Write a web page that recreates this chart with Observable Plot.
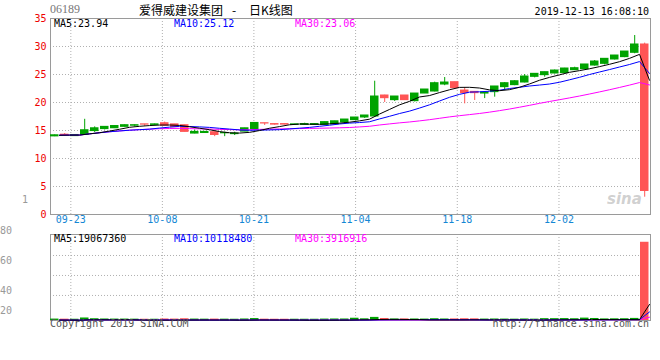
<!DOCTYPE html>
<html><head><meta charset="utf-8">
<script src="https://cdn.jsdelivr.net/npm/d3@7"></script>
<script src="https://cdn.jsdelivr.net/npm/@observablehq/plot@0.6"></script>
<style>
body{margin:0;background:#fff;}
#wrap{position:relative;width:660px;height:360px;overflow:hidden;font-family:"DejaVu Sans Mono",monospace;background:#fff;}
.t{position:absolute;white-space:nowrap;font-size:10px;line-height:10px;font-family:"DejaVu Sans Mono",monospace;}
#wrap svg{position:absolute;left:0;}
</style></head><body><div id="wrap"></div>
<script>
// ---- data (HKEX 06189, daily K) ----
const dates = ["09-19","09-20","09-23","09-24","09-25","09-26","09-27","09-30","10-02","10-03",
"10-04","10-08","10-09","10-10","10-11","10-14","10-15","10-16","10-17","10-18",
"10-21","10-22","10-23","10-24","10-25","10-28","10-29","10-30","10-31","11-01",
"11-04","11-05","11-06","11-07","11-08","11-11","11-12","11-13","11-14","11-15",
"11-18","11-19","11-20","11-21","11-22","11-25","11-26","11-27","11-28","11-29",
"12-02","12-03","12-04","12-05","12-06","12-09","12-10","12-11","12-12","12-13"];
const open  = [13.95,14.25,14.00,14.20,14.90,15.25,15.40,15.65,15.85,16.10,
16.00,16.30,16.10,15.95,14.45,14.55,14.70,14.50,14.35,14.80,
15.25,16.30,16.15,16.15,16.00,16.00,16.00,16.00,16.10,16.45,
16.85,17.32,17.50,21.25,20.42,21.25,20.24,21.60,21.96,23.21,
23.63,22.14,21.90,21.60,21.85,22.74,23.10,23.57,24.58,24.88,
25.18,25.24,25.77,25.95,26.60,26.90,27.68,28.10,28.87,30.36];
const high  = [14.20,14.45,14.20,17.00,15.65,15.70,15.85,16.00,16.00,16.10,
16.15,16.50,16.10,15.95,15.10,14.80,14.70,14.70,14.70,15.40,
16.35,16.30,16.15,16.15,16.10,16.30,16.20,16.50,16.65,16.96,
17.32,17.68,23.80,21.30,21.07,21.25,21.60,22.32,23.63,24.46,
23.63,22.62,21.90,21.80,22.86,23.55,23.90,25.00,25.12,25.42,
25.80,26.10,26.30,26.79,27.50,27.80,28.40,29.10,31.96,30.60];
const low   = [13.90,14.15,13.95,14.10,14.65,15.10,15.35,15.60,15.65,15.75,
15.90,15.85,15.60,14.75,14.40,14.50,13.90,13.90,14.10,14.80,
15.25,15.90,15.95,16.00,16.00,16.00,15.95,16.00,16.10,16.20,
16.85,17.15,17.40,20.00,20.18,20.42,20.10,21.60,21.90,23.00,
22.56,19.76,20.36,20.70,20.95,22.14,23.00,23.50,24.40,24.52,
25.10,25.20,25.70,25.90,26.50,26.70,27.60,28.00,28.70,3.09];
const close = [14.15,14.20,14.20,15.05,15.40,15.65,15.80,15.95,15.95,16.05,
16.10,15.85,15.60,14.75,14.75,14.75,14.20,14.55,14.45,15.40,
16.35,16.25,16.05,16.05,16.10,16.15,16.15,16.50,16.65,16.96,
17.32,17.68,21.07,20.77,21.07,20.42,21.60,22.32,23.45,23.57,
22.56,21.67,21.67,21.80,22.86,23.45,23.80,24.64,25.12,25.42,
25.71,26.07,26.13,26.79,27.32,27.80,28.39,29.10,30.36,4.20];
const volume = [500000,400000,300000,1800000,900000,600000,500000,500000,400000,300000,
300000,600000,500000,900000,500000,400000,500000,400000,300000,600000,
1100000,400000,300000,300000,300000,300000,300000,500000,600000,600000,
1500000,800000,2500000,1200000,600000,700000,600000,500000,900000,600000,
700000,900000,800000,500000,600000,500000,400000,600000,400000,1000000,
1000000,1100000,900000,1650000,1200000,700000,800000,900000,1300000,91600000];
const tickLabels = ["09-23","10-08","10-21","11-04","11-18","12-02"];
const priceTicks = [0,5,10,15,20,25,30,35];
const priceGrid = [5,10,15,20,25,30];
const volMax = 102000000;
const volGrid = [29700000,53400000,77100000];
const volLabels = ["80","60","40","20"];
const maLabels = ["MA5:23.94","MA10:25.12","MA30:23.06"];
const volMaLabels = ["MA5:19067360","MA10:10118480","MA30:3916916"];
const maColors = ["#000000","#0000ff","#ff00ff"];
const maK = [5,10,30];

const GREEN = "#00a300", RED = "#ff5555", GRID = "#b0b0b0", AXIS = "#9a9a9a";
const rows = dates.map((d,i)=>({i, date:d, o:open[i], h:high[i], l:low[i], c:close[i], v:volume[i], up: close[i] >= open[i]}));
const col = d => d.up ? GREEN : RED;
const tickIdx = tickLabels.map(l => dates.indexOf(l));
const N = dates.length;
const gx = t => t * N / (N - 1); // Sina grid placement

const wrap = document.getElementById("wrap");

const priceMarks = [
  Plot.ruleY(priceGrid, {stroke: GRID, strokeDasharray: "1,2"}),
  Plot.ruleX(tickIdx, {x: gx, stroke: GRID, strokeDasharray: "1,2"}),
  Plot.frame({stroke: AXIS}),
  Plot.ruleX(rows, {x: d => d.i + 0.42, y1: "l", y2: "h", stroke: col}),
  Plot.rect(rows, {x1: "i", x2: d => d.i + 0.85, y1: d => Math.min(d.o, d.c), y2: d => Math.max(d.o, d.c), fill: col, insetTop: -0.5, insetBottom: -0.5}),
];
[2,1,0].forEach(j => priceMarks.push(
  Plot.lineY(rows, Plot.windowY({k: maK[j], anchor: "end", reduce: "mean"}, {x: d => d.i + 0.9, y: "c", stroke: maColors[j], strokeWidth: 1}))
));
priceMarks.push(
  Plot.axisY(priceTicks, {tickSize: 0, tickPadding: 4, color: "#ee0000", fontSize: 10}),
  Plot.text(tickIdx, {x: gx, text: (t, i) => tickLabels[i], frameAnchor: "bottom", dy: 8, fill: "#1487d4", fontSize: 10})
);

const price = Plot.plot({
  width: 660, height: 232, marginLeft: 50, marginRight: 10, marginTop: 18, marginBottom: 18,
  x: {type: "linear", domain: [0, N], axis: null},
  y: {domain: [0, 35], axis: null},
  color: {type: "identity"},
  style: {fontFamily: "DejaVu Sans Mono, monospace", fontSize: "10px", background: "transparent", overflow: "visible"},
  marks: priceMarks
});
price.style.top = "0px";
wrap.appendChild(price);

const volMarks = [
  Plot.ruleY(volGrid, {stroke: GRID, strokeDasharray: "1,2"}),
  Plot.ruleX(tickIdx, {x: gx, stroke: GRID, strokeDasharray: "1,2"}),
  Plot.frame({stroke: AXIS}),
  Plot.rect(rows, {x1: "i", x2: d => d.i + 0.85, y1: 0, y2: "v", fill: col, insetTop: -1}),
];
[2,1,0].forEach(j => volMarks.push(
  Plot.lineY(rows, Plot.windowY({k: maK[j], anchor: "end", reduce: "mean"}, {x: d => d.i + 0.9, y: "v", stroke: maColors[j], strokeWidth: 1}))
));
const vol = Plot.plot({
  width: 660, height: 100, marginLeft: 50, marginRight: 10, marginTop: 2, marginBottom: 12,
  x: {type: "linear", domain: [0, N], axis: null},
  y: {domain: [0, volMax], axis: null},
  color: {type: "identity"},
  style: {fontFamily: "DejaVu Sans Mono, monospace", fontSize: "10px", background: "transparent"},
  marks: volMarks
});
vol.style.top = "232px";
wrap.appendChild(vol);

// ---- texts ----
function txt(s, css, color) {
  const d = document.createElement("div");
  d.className = "t";
  d.textContent = s;
  Object.assign(d.style, css);
  if (color) d.style.color = color;
  wrap.appendChild(d);
  return d;
}
txt("06189", {left: "50px", top: "3px", fontFamily: "'Liberation Serif', serif", fontSize: "12px", lineHeight: "12px"}, "#777");
const cjk = {top: "2px", fontFamily: "'Noto Sans CJK SC', sans-serif", fontSize: "12px", lineHeight: "15px"};
txt("爱得威建设集团", Object.assign({left: "139px"}, cjk), "#000");
txt("-", Object.assign({left: "232px"}, cjk), "#000");
txt("日K线图", Object.assign({left: "249px"}, cjk), "#000");
txt("2019-12-13 16:08:10", {right: "11px", top: "7px"}, "#000");
const maX = [54, 174, 295];
maLabels.forEach((s, j) => txt(s, {left: maX[j] + "px", top: "19px"}, maColors[j]));
volMaLabels.forEach((s, j) => txt(s, {left: maX[j] + "px", top: "234px"}, maColors[j]));
txt("1", {left: "22px", top: "195px"}, "#999");
const volLabelTops = [226, 256, 286, 306];
volLabels.forEach((s, j) => txt(s, {left: "0px", top: volLabelTops[j] + "px"}, "#999"));
txt("Copyright 2019 SINA.COM", {left: "50px", top: "319px"}, "#555");
txt("http://finance.sina.com.cn", {right: "11px", top: "319px"}, "#555");
txt("sina", {left: "607px", top: "192px", fontFamily: "'DejaVu Sans', sans-serif", fontSize: "15px", lineHeight: "15px", fontStyle: "italic", fontWeight: "bold"}, "rgba(150,150,150,0.45)");
</script></body></html>
